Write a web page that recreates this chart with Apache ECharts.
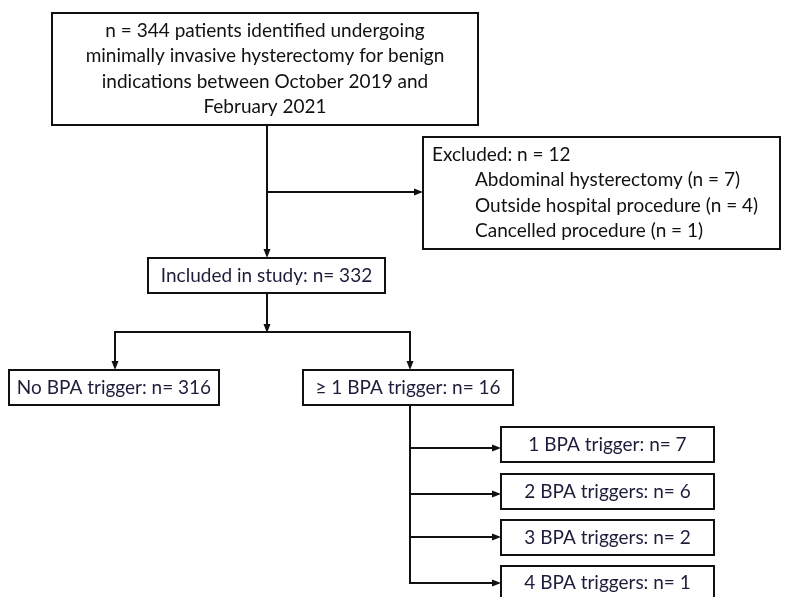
<!DOCTYPE html>
<html lang="en">
<head>
    <meta charset="UTF-8">
    <title>Flow diagram</title>
    <script src="https://cdn.jsdelivr.net/npm/echarts@6/dist/echarts.min.js"></script>
    <style>
    html, body { margin: 0; padding: 0; background: #fff; }
    #chart { width: 789px; height: 597px; }
    </style>
</head>
<body>
    <div id="chart"></div>
    <script>
        // counts
        var totalIdentified = 344;
        var excludedTotal = 12;
        var excludedReasons = ['Abdominal hysterectomy', 'Outside hospital procedure', 'Cancelled procedure'];
        var excludedCounts = [7, 4, 1];
        var includedTotal = 332;
        var splitLabels = ['No BPA trigger', '\u2265 1 BPA trigger'];
        var splitCounts = [316, 16];
        var bpaLabels = ['1 BPA trigger', '2 BPA triggers', '3 BPA triggers', '4 BPA triggers'];
        var bpaCounts = [7, 6, 2, 1];

        // box layout in pixel space: [x0, y0, x1, y1]
        var boxRects = [
            [52, 13, 478, 125],
            [423, 137, 780, 249],
            [148, 258, 385, 293],
            [9, 370, 219, 405],
            [303, 370, 513, 405],
            [501, 427, 714, 462],
            [501, 474, 714, 509],
            [501, 520, 714, 555],
            [501, 566, 714, 612]
        ];

        var boxTexts = [
            'n = ' + totalIdentified + ' patients identified undergoing\nminimally invasive hysterectomy for benign\nindications between October 2019 and\nFebruary 2021',
            null,
            'Included in study: n= ' + includedTotal,
            splitLabels[0] + ': n= ' + splitCounts[0],
            splitLabels[1] + ': n= ' + splitCounts[1]
        ];
        bpaLabels.forEach(function (l, i) { boxTexts.push(l + ': n= ' + bpaCounts[i]); });

        // connectors: polyline points, last point gets an arrow
        var connectors = [
            [[267, 125], [267, 257]],
            [[267, 192], [422, 192]],
            [[267, 293], [267, 332]],
            [[267, 332], [115, 332], [115, 369]],
            [[267, 332], [410, 332], [410, 369]],
            [[410, 405], [410, 583], [500, 583]],
            [[410, 448], [500, 448]],
            [[410, 494], [500, 494]],
            [[410, 537], [500, 537]]
        ];

        var FONT = 'Lato, "Open Sans", sans-serif';
        var SIZE = '19px ';
        var darkText = '#1d1d3b';

        var chart = echarts.init(document.getElementById('chart'));
        var option = {
            animation: false,
            grid: { left: 0, right: 0, top: 0, bottom: 0 },
            xAxis: { type: 'value', min: 0, max: 789, show: false },
            yAxis: { type: 'value', min: 0, max: 597, inverse: true, show: false },
            series: [
                {
                    type: 'custom',
                    data: connectors.map(function (c, i) { return [i]; }),
                    renderItem: function (params, api) {
                        var pts = connectors[params.dataIndex].map(function (p) { return api.coord(p); });
                        var a = pts[pts.length - 2], b = pts[pts.length - 1];
                        var dx = b[0] - a[0], dy = b[1] - a[1];
                        var len = Math.sqrt(dx * dx + dy * dy);
                        var ux = dx / len, uy = dy / len;
                        var al = 8, aw = 3.5;
                        var base = [b[0] - ux * al, b[1] - uy * al];
                        var tri = [
                            [b[0] + ux, b[1] + uy],
                            [base[0] - uy * aw, base[1] + ux * aw],
                            [base[0] + uy * aw, base[1] - ux * aw]
                        ];
                        var linePts = pts.slice(0, -1).concat([base]);
                        return {
                            type: 'group',
                            children: [
                                { type: 'polyline', shape: { points: linePts }, style: { stroke: '#111', lineWidth: 2, fill: null } },
                                { type: 'polygon', shape: { points: tri }, style: { fill: '#111' } }
                            ]
                        };
                    }
                },
                {
                    type: 'custom',
                    data: boxRects.map(function (r, i) { return [i]; }),
                    renderItem: function (params, api) {
                        var r = boxRects[params.dataIndex];
                        var p0 = api.coord([r[0], r[1]]), p1 = api.coord([r[2], r[3]]);
                        var children = [{
                            type: 'rect',
                            shape: { x: p0[0], y: p0[1], width: p1[0] - p0[0], height: p1[1] - p0[1] },
                            style: { fill: '#fff', stroke: '#111', lineWidth: 2 }
                        }];
                        var i = params.dataIndex;
                        if (i === 1) {
                            children.push({
                                type: 'text', x: 432, y: 155,
                                style: { text: 'Excluded: n = ' + excludedTotal, font: SIZE + FONT, fill: '#111', verticalAlign: 'middle' }
                            });
                            excludedReasons.forEach(function (t, k) {
                                children.push({
                                    type: 'text', x: 475, y: 180 + k * 25.5,
                                    style: { text: t + ' (n = ' + excludedCounts[k] + ')', font: SIZE + FONT, fill: '#111', verticalAlign: 'middle' }
                                });
                            });
                        } else {
                            var cy = i === 8 ? 583 : (p0[1] + p1[1]) / 2;
                            children.push({
                                type: 'text', x: (p0[0] + p1[0]) / 2, y: cy,
                                style: {
                                    text: boxTexts[i], font: SIZE + FONT, lineHeight: 25.3,
                                    fill: i === 0 ? '#111' : darkText, align: 'center', verticalAlign: 'middle'
                                }
                            });
                        }
                        return { type: 'group', children: children };
                    }
                }
            ]
        };
        chart.setOption(option);
    </script>
</body>
</html>
